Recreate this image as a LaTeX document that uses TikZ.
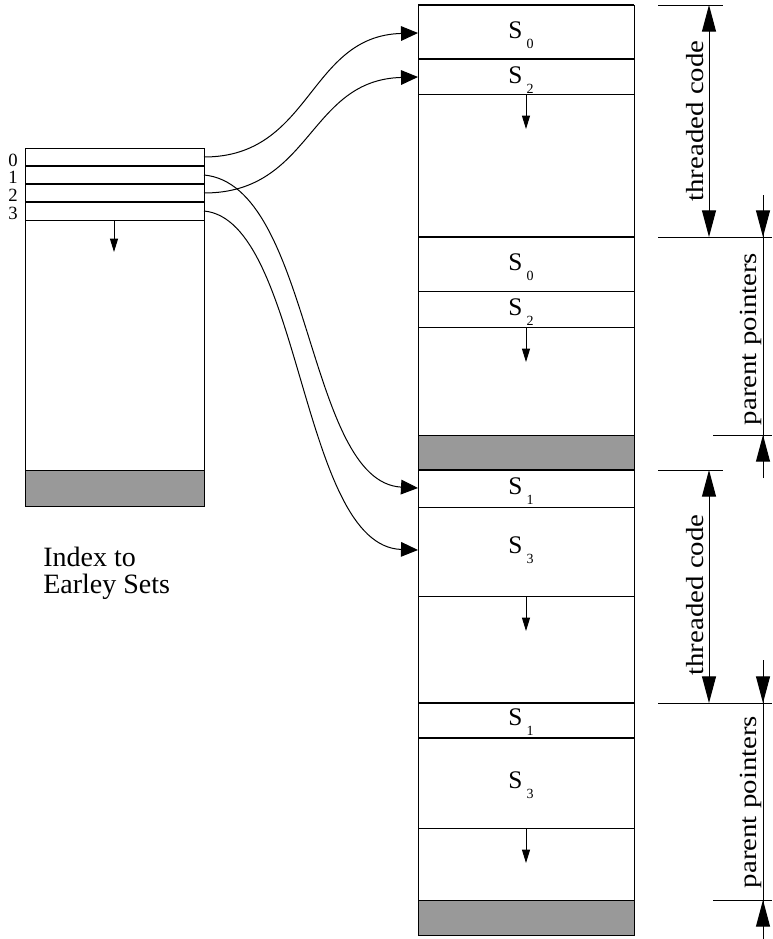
\documentclass[tikz,border=0pt]{standalone}
\usepackage{fontspec}
\setmainfont{Liberation Serif}
\usetikzlibrary{arrows.meta}
\definecolor{setgray}{RGB}{153,153,153}
\newcommand{\esset}[1]{S\hspace{3pt}\raisebox{-8pt}{\fontsize{10.5}{10.5}\selectfont #1}}

\begin{document}
\begin{tikzpicture}[x=0.75pt,y=0.75pt,yscale=-1,xscale=1,
	box/.style={draw=black,line width=0.75pt},
	sep/.style={line width=1.5pt},
	fillbar/.style={draw=black,line width=0.75pt,fill=setgray},
	link/.style={line width=0.75pt,-{Triangle[length=12.75pt,width=11pt]}},
	growarrow/.style={line width=0.75pt,-{Triangle[length=10pt,width=6pt]}},
	dim/.style={line width=0.75pt},
	dimtip/.tip={Triangle[length=20pt,width=10.5pt]},
	setlabel/.style={anchor=base,inner sep=0pt,font=\fontsize{19}{19}\selectfont},
	rowlabel/.style={anchor=base east,inner sep=0pt,font=\fontsize{14}{14}\selectfont},
	dimlabel/.style={rotate=90,inner sep=0pt,font=\fontsize{18.5}{18.5}\selectfont}
	]
	\useasboundingbox (0,0) rectangle (772,939);
	
	%Index to Earley sets
	\draw[box] (25,148) rectangle (204,506);
	\draw[fillbar] (25,470) rectangle (204,506);
	\foreach \y in {166,184,202} \draw[sep] (25,\y) -- (204,\y);
	\draw[box] (25,220) -- (204,220);
	\draw[growarrow] (114,220) -- (114,252);
	\foreach \i/\yb in {0/166,1/183.5,2/201,3/219} {
		\node[rowlabel] (idx\i) at (18,\yb) {\i};
		\coordinate (row\i) at (204,{157+18*\i});
	}
	
	%Earley item storage
	\draw[box] (418,5) rectangle (634,935);
	\draw[fillbar] (418,435) rectangle (634,470);
	\draw[fillbar] (418,900) rectangle (634,935);
	\foreach \y in {94,291,327,507,596,828} \draw[box] (418,\y) -- (634,\y);
	\foreach \y in {5,59,237,470,703,738} \draw[sep] (418,\y) -- (634,\y);
	\foreach \y in {94,327,596,828} \draw[growarrow] (526,\y) -- (526,{\y+35});
	
	% Text Node
	\node[setlabel] (s0a) at (521,38) {\esset{0}};
	\node[setlabel] (s2a) at (521,83) {\esset{2}};
	\node[setlabel] (s0b) at (521,270) {\esset{0}};
	\node[setlabel] (s2b) at (521,315) {\esset{2}};
	\node[setlabel] (s1a) at (521,494) {\esset{1}};
	\node[setlabel] (s3a) at (521,553) {\esset{3}};
	\node[setlabel] (s1b) at (521,725) {\esset{1}};
	\node[setlabel] (s3b) at (521,788) {\esset{3}};
	
	%Pointers
	\coordinate (in0) at (418,33);
	\coordinate (in2) at (418,77);
	\coordinate (in1) at (418,488);
	\coordinate (in3) at (418,550);
	\draw[link] (row0) .. controls (312,157) and (308,36) .. (in0);
	\draw[link] (row2) .. controls (312,193) and (308,80) .. (in2);
	\draw[link] (row1) .. controls (312,185) and (306,482) .. (in1);
	\draw[link] (row3) .. controls (302,220) and (300,546) .. (in3);
	
	%Dimensions
	\draw[dim] (658,5) -- (723,5);
	\draw[dim] (658,237) -- (772,237);
	\draw[dim] (713,435) -- (772,435);
	\draw[dim] (658,470) -- (723,470);
	\draw[dim] (658,703) -- (772,703);
	\draw[dim] (713,900) -- (772,900);
	\draw[dim,dimtip-dimtip] (709,5) -- (709,237);
	\draw[dim,dimtip-dimtip] (709,470) -- (709,703);
	\draw[dim] (763,195) -- (763,478);
	\draw[dim,-dimtip] (763,195) -- (763,237);
	\draw[dim,-dimtip] (763,478) -- (763,435);
	\draw[dim] (763,660) -- (763,939);
	\draw[dim,-dimtip] (763,660) -- (763,703);
	\draw[dim,-dimtip] (763,939) -- (763,900);
	
	% Text Node
	\node[dimlabel] (tc1) at (695,121) {\scalebox{1.17}[1]{threaded code}};
	\node[dimlabel] (pp1) at (750.5,339) {\scalebox{1.17}[1]{parent pointers}};
	\node[dimlabel] (tc2) at (695,595) {\scalebox{1.17}[1]{threaded code}};
	\node[dimlabel] (pp2) at (750.5,802) {\scalebox{1.17}[1]{parent pointers}};
	% Text Node
	\node[anchor=north west,align=left,inner sep=0pt,font=\fontsize{21}{20.25}\selectfont] (title) at (43,547) {Index to\\Earley Sets};
	
\end{tikzpicture}
\end{document}
